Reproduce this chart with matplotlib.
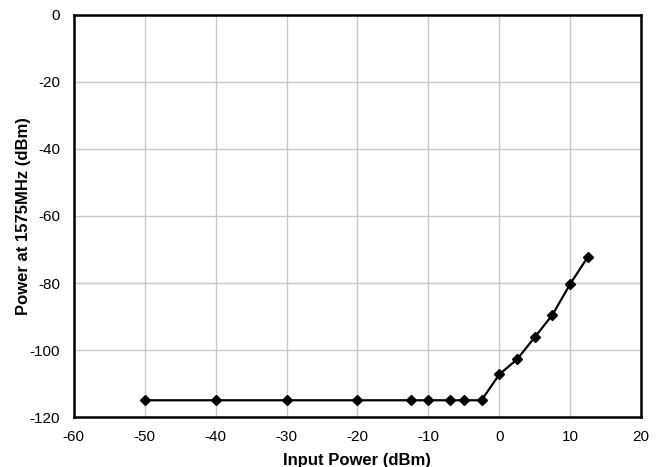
import matplotlib
matplotlib.use('Agg')
import matplotlib.pyplot as plt

plt.rcParams['font.family'] = ['Liberation Sans', 'DejaVu Sans']
plt.rcParams['axes.unicode_minus'] = False

input_power = [-50, -40, -30, -20, -12.5, -10, -7, -5, -2.5, 0, 2.5, 5, 7.5, 10, 12.5]
power_1575 = [-115, -115, -115, -115, -115, -115, -115, -115, -115,
              -107.3, -102.8, -96.2, -89.5, -80.3, -72.2]

fig = plt.figure(figsize=(6.65, 4.67), dpi=100)
ax = fig.add_axes([0.111, 0.107, 0.853, 0.861])
ax.plot(input_power, power_1575, color='black', linewidth=1.6,
        marker='D', markersize=5, zorder=3)
ax.set_xlim(-60, 20)
ax.set_ylim(-120, 0)
ax.set_xticks(range(-60, 21, 10))
ax.set_yticks(range(-120, 1, 20))
ax.grid(True, color='#c8c8c8', linewidth=1)
ax.tick_params(length=0, labelsize=11)
ax.tick_params(axis='x', pad=9)
ax.tick_params(axis='y', pad=10)
for s in ax.spines.values():
    s.set_linewidth(1.8)
ax.set_xlabel('Input Power (dBm)', fontsize=12, fontweight='bold', labelpad=7)
ax.set_ylabel('Power at 1575MHz (dBm)', fontsize=12, fontweight='bold', labelpad=-1)
fig.savefig('out.png', dpi=100)
